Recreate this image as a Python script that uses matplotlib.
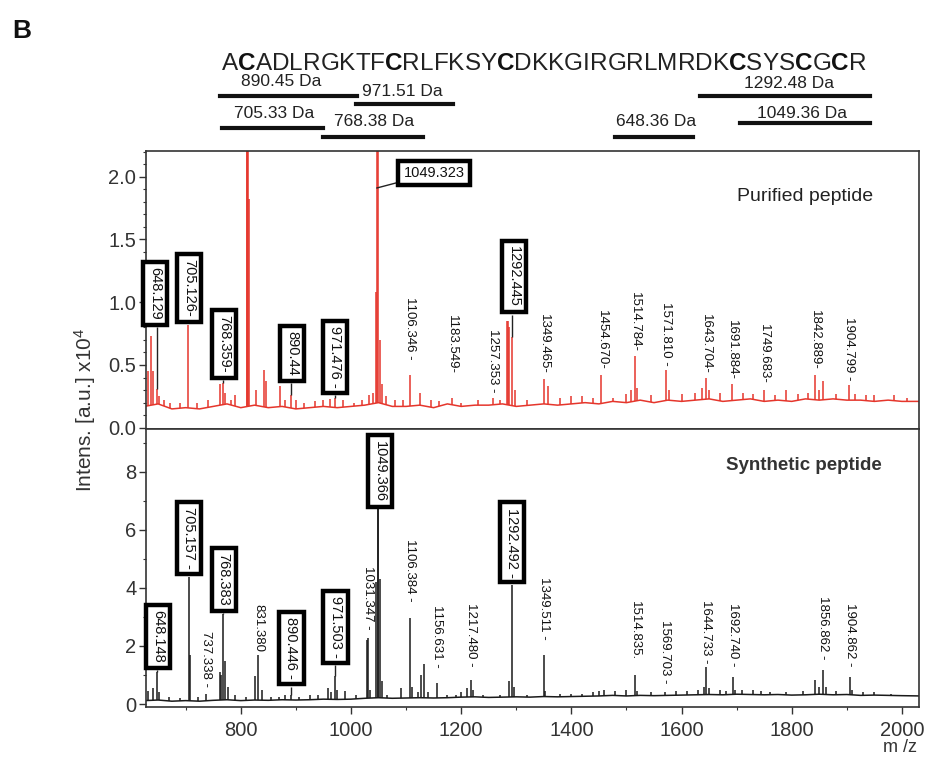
import numpy as np
import matplotlib
matplotlib.use("Agg")
import matplotlib.pyplot as plt
from matplotlib.ticker import MultipleLocator, FixedLocator

plt.rcParams['font.family'] = ['Liberation Sans', 'DejaVu Sans']
plt.rcParams['mathtext.fontset'] = 'custom'
plt.rcParams['mathtext.rm'] = 'Liberation Sans'
plt.rcParams['mathtext.it'] = 'Liberation Sans:italic'

# ---------------- data ----------------
sequence = "ACADLRGKTFCRLFKSYCDKKGIRGRLMRDKCSYSCGCR"
bold_letters = "C"

fragment_labels = ["890.45 Da", "971.51 Da", "1292.48 Da", "705.33 Da", "768.38 Da", "648.36 Da", "1049.36 Da"]

# Purified peptide (red), intensity in units of 10^4
top_base_mz = [625, 650, 675, 700, 725, 750, 775, 800, 825, 850, 875, 900, 925, 950, 975, 1000,
               1025, 1050, 1075, 1100, 1125, 1150, 1175, 1200, 1225, 1250, 1275, 1300, 1325, 1350,
               1375, 1400, 1425, 1450, 1475, 1500, 1525, 1550, 1575, 1600, 1625, 1650, 1675, 1700,
               1725, 1750, 1775, 1800, 1825, 1850, 1875, 1900, 1925, 1950, 1975, 2000, 2035]
top_base_int = [0.17, 0.19, 0.15, 0.16, 0.15, 0.17, 0.19, 0.16, 0.18, 0.16, 0.17, 0.15, 0.16, 0.17,
                0.16, 0.17, 0.18, 0.20, 0.17, 0.17, 0.18, 0.16, 0.19, 0.17, 0.18, 0.18, 0.19, 0.17,
                0.18, 0.19, 0.18, 0.19, 0.20, 0.19, 0.21, 0.20, 0.22, 0.20, 0.22, 0.21, 0.22, 0.23,
                0.21, 0.22, 0.23, 0.21, 0.22, 0.21, 0.23, 0.22, 0.23, 0.22, 0.22, 0.21, 0.22, 0.21, 0.21]
top_peak_mz = [632, 637, 641, 648.1, 652, 660, 672, 690, 705.1, 720, 740, 763, 768.4, 772, 782, 790,
               810.5, 812, 813.5, 815, 827, 843, 846, 871, 880, 890.4, 900, 915, 935, 950, 962, 971.5,
               985, 1005, 1020, 1032, 1040, 1045, 1047.8, 1049.3, 1052, 1056, 1063, 1080, 1095, 1106.3,
               1126, 1145, 1160, 1183.5, 1200, 1230, 1257.4, 1270, 1283, 1285, 1287, 1292.4, 1297, 1320,
               1349.5, 1357, 1380, 1400, 1420, 1440, 1454.7, 1475, 1500, 1508, 1514.8, 1520, 1545,
               1571.8, 1578, 1600, 1625, 1638, 1643.7, 1650, 1670, 1691.9, 1712, 1730, 1749.7, 1770,
               1790, 1812, 1830, 1842.9, 1850, 1857, 1880, 1904.8, 1915, 1935, 1950, 1985, 2010]
top_peak_int = [0.45, 0.73, 0.45, 0.31, 0.25, 0.22, 0.2, 0.2, 0.82, 0.2, 0.22, 0.35, 0.36, 0.28, 0.22,
                0.26, 2.6, 2.6, 2.6, 1.82, 0.3, 0.46, 0.37, 0.33, 0.22, 0.26, 0.22, 0.2, 0.21, 0.22,
                0.23, 0.24, 0.22, 0.2, 0.22, 0.26, 0.28, 1.08, 2.6, 2.6, 0.7, 0.35, 0.25, 0.22, 0.22,
                0.42, 0.28, 0.22, 0.21, 0.24, 0.2, 0.22, 0.24, 0.22, 0.85, 0.85, 0.8, 0.72, 0.3, 0.22,
                0.39, 0.33, 0.24, 0.25, 0.25, 0.24, 0.42, 0.24, 0.27, 0.3, 0.57, 0.32, 0.26, 0.46, 0.3,
                0.27, 0.28, 0.32, 0.4, 0.3, 0.28, 0.35, 0.28, 0.27, 0.3, 0.26, 0.3, 0.27, 0.28, 0.42,
                0.3, 0.37, 0.27, 0.34, 0.27, 0.26, 0.26, 0.26, 0.24]

top_label_text = ["1106.346 -", "1183.549-", "1257.353 -", "1349.465-", "1454.670-", "1514.784-",
                  "1571.810 -", "1643.704-", "1691.884-", "1749.683-", "1842.889-", "1904.799 -"]
top_label_mz = [1106.3, 1183.5, 1257.4, 1349.5, 1454.7, 1514.8, 1571.8, 1643.7, 1691.9, 1749.7, 1842.9, 1904.8]
top_box_text = ["648.129", "705.126-", "768.359-", "890.44", "971.476 -", "1292.445"]
top_box_mz = [648.1, 705.1, 768.4, 890.4, 971.5, 1292.4]
top_box_peak = [0.31, 0.82, 0.36, 0.26, 0.24, 0.72]
top_main_text = "1049.323"
top_main_mz = 1049.3

# Synthetic peptide (black)
bot_base_mz = top_base_mz
bot_base_int = [0.12, 0.14, 0.10, 0.12, 0.10, 0.13, 0.15, 0.12, 0.14, 0.13, 0.15, 0.14, 0.15, 0.17,
                0.16, 0.17, 0.20, 0.22, 0.20, 0.21, 0.22, 0.21, 0.22, 0.24, 0.25, 0.23, 0.24, 0.25,
                0.24, 0.26, 0.25, 0.26, 0.27, 0.28, 0.30, 0.28, 0.30, 0.29, 0.30, 0.31, 0.32, 0.33,
                0.32, 0.34, 0.33, 0.32, 0.33, 0.31, 0.32, 0.34, 0.32, 0.33, 0.30, 0.31, 0.30, 0.29, 0.28]
bot_peak_mz = [632, 640, 648.1, 652, 670, 690, 705.2, 707.5, 722, 737.3, 762, 765, 768.4, 772, 776,
               790, 810, 825, 831.4, 838, 855, 870, 880, 890.4, 905, 925, 940, 958, 963, 971.5, 975,
               990, 1010, 1029, 1031.3, 1035, 1046, 1048.2, 1049.4, 1052, 1056, 1065, 1090, 1106.4, 1110,
               1122, 1128, 1133, 1140, 1156.6, 1175, 1190, 1200, 1210, 1217.5, 1222, 1240, 1270, 1287,
               1292.5, 1296, 1320, 1349.5, 1352, 1380, 1400, 1420, 1440, 1450, 1460, 1480, 1500,
               1514.8, 1520, 1545, 1569.7, 1590, 1610, 1630, 1640, 1644.7, 1650, 1670, 1680, 1692.7,
               1697, 1710, 1730, 1745, 1760, 1790, 1820, 1842, 1850, 1856.9, 1862, 1880, 1904.9, 1910,
               1930, 1950, 1980, 2010]
bot_peak_int = [0.45, 0.55, 1.1, 0.4, 0.25, 0.22, 4.38, 1.7, 0.25, 0.35, 1.1, 1.0, 3.1, 1.5, 0.6,
                0.3, 0.25, 0.96, 1.69, 0.5, 0.25, 0.25, 0.3, 0.3, 0.25, 0.3, 0.3, 0.55, 0.4, 0.95, 0.5,
                0.45, 0.3, 2.2, 2.27, 0.5, 4.2, 6.7, 6.7, 4.3, 0.8, 0.3, 0.55, 2.96, 0.6, 0.4, 1.0, 1.38, 0.4,
                0.72, 0.3, 0.3, 0.4, 0.55, 0.83, 0.5, 0.3, 0.3, 0.8, 4.1, 0.6, 0.3, 1.69, 0.45, 0.35,
                0.35, 0.35, 0.4, 0.45, 0.5, 0.45, 0.5, 1.0, 0.45, 0.4, 0.4, 0.45, 0.45, 0.5, 0.6, 1.28,
                0.55, 0.5, 0.45, 0.93, 0.5, 0.5, 0.5, 0.45, 0.4, 0.4, 0.45, 0.83, 0.6, 1.17, 0.6, 0.45,
                0.93, 0.5, 0.4, 0.4, 0.35, 0.33]

bot_label_text = ["737.338 -", "831.380", "1031.347 -", "1106.384 -", "1156.631 -", "1217.480 -",
                  "1349.511 -", "1514.835.", "1569.703 -", "1644.733 -", "1692.740 -", "1856.862 -",
                  "1904.862 -"]
bot_label_mz = [737.3, 831.4, 1031.3, 1106.4, 1156.6, 1217.5, 1349.5, 1514.8, 1569.7, 1644.7, 1692.7,
                1856.9, 1904.9]
bot_box_text = ["648.148", "705.157 -", "768.383", "890.446 -", "971.503 -", "1049.366", "1292.492 -"]
bot_box_mz = [648.1, 705.2, 768.4, 890.4, 971.5, 1049.4, 1292.5]
bot_box_peak = [1.1, 4.38, 3.1, 0.3, 0.95, 6.7, 4.1]

# ---------------- layout (positions only) ----------------
W, H = 927, 758
def fx(x): return x / W
def fy(y): return 1 - y / H

top_label_y = [0.54, 0.43, 0.28, 0.43, 0.46, 0.60, 0.49, 0.43, 0.38, 0.35, 0.46, 0.38]
top_box_y = [0.80, 0.82, 0.38, 0.355, 0.26, 0.90]
top_box_x = [645, 705.7, 770, 893.6, 970.6, 1295.5]
bot_label_y = [0.6, 1.8, 2.55, 3.52, 1.24, 1.28, 2.2, 1.52, 0.71, 1.41, 1.28, 1.52, 1.28]
bot_box_y = [1.17, 4.38, 3.12, 0.60, 1.34, 6.71, 4.1]
bot_box_x = [650, 706, 769, 892, 972, 1052, 1292]

# fragment bars: (x0, x1, y) in pixels, label centre (x, y)
frag_bars = [(220, 357, 95.5), (356, 453, 104), (700, 870, 96), (222, 323, 128),
             (323, 423, 136.5), (615, 693, 137), (740, 870, 123)]
frag_text_pos = [(281, 82), (402, 92), (789, 83), (274, 114), (374, 122), (656, 122), (802, 113)]

red = '#e5362c'
dark = '#1a1a1a'

fig = plt.figure(figsize=(W / 100, H / 100), dpi=100)
ax_l, ax_r = 146, 919
ax1 = fig.add_axes([fx(ax_l), fy(429), (ax_r - ax_l) / W, (429 - 151) / H])
ax2 = fig.add_axes([fx(ax_l), fy(707), (ax_r - ax_l) / W, (707 - 429) / H])

xlim = (628, 2031)


def draw_spectrum(ax, base_mz, base_int, pk_mz, pk_int, color):
    ax.plot(base_mz, base_int, color=color, lw=1.1, zorder=2)
    b = np.interp(pk_mz, base_mz, base_int)
    ax.vlines(pk_mz, b, pk_int, color=color, lw=1.1, zorder=2)


draw_spectrum(ax1, top_base_mz, top_base_int, top_peak_mz, top_peak_int, red)
draw_spectrum(ax2, bot_base_mz, bot_base_int, bot_peak_mz, bot_peak_int, dark)

label_fs = 9.5
box_fs = 10.5
box_kw = dict(boxstyle='square,pad=0.35', fc='white', ec='black', lw=3.2)
box_off = 0.35 * box_fs + 1.8


def plain_labels(ax, texts, mzs, ys):
    for t, m, y in zip(texts, mzs, ys):
        ax.annotate(t, xy=(m, y), xytext=(0, 0), textcoords='offset points', rotation=270,
                    ha='center', va='bottom', fontsize=label_fs, color='#111111', zorder=5)


def box_labels(ax, texts, mzs, xs, ys, peaks):
    for t, m, x, y, p in zip(texts, mzs, xs, ys, peaks):
        if y > p:
            ax.vlines([m], p, y, color='#222222', lw=1.0, zorder=3)
        ax.annotate(t, xy=(x, y), xytext=(0, box_off), textcoords='offset points', rotation=270,
                    ha='center', va='bottom', fontsize=box_fs, color='#111111', bbox=box_kw,
                    zorder=6, annotation_clip=False)


plain_labels(ax1, top_label_text, top_label_mz, top_label_y)
box_labels(ax1, top_box_text, top_box_mz, top_box_x, top_box_y, top_box_peak)
ax1.annotate(top_main_text, xy=(top_main_mz - 2.5, 1.91), xytext=(1150.6, 2.03), textcoords='data',
             ha='center', va='center', fontsize=box_fs, color='#111111', bbox=box_kw, zorder=6,
             arrowprops=dict(arrowstyle='-', color='#222222', lw=1.0, shrinkA=0, shrinkB=0))

plain_labels(ax2, bot_label_text, bot_label_mz, bot_label_y)
box_labels(ax2, bot_box_text, bot_box_mz, bot_box_x, bot_box_y, bot_box_peak)

ax1.text(0.9405, 0.835, "Purified peptide", transform=ax1.transAxes, ha='right', va='center',
         fontsize=14, color='#222222')
ax2.text(0.952, 0.87, "Synthetic peptide", transform=ax2.transAxes, ha='right', va='center',
         fontsize=13.5, fontweight='bold', color='#333333')

for ax in (ax1, ax2):
    ax.set_xlim(*xlim)
    for s in ax.spines.values():
        s.set_color('#333333')
        s.set_linewidth(1.2)
    ax.tick_params(axis='both', which='major', direction='out', length=5, width=1.0,
                   labelsize=14.5, colors='#333333', pad=2)
    ax.tick_params(axis='both', which='minor', direction='out', length=2.5, width=0.8, colors='#333333')

ax1.set_ylim(-0.01, 2.205)
ax1.yaxis.set_major_locator(FixedLocator([0.0, 0.5, 1.0, 1.5, 2.0]))
ax1.set_yticklabels(["0.0", "0.5", "1.0", "1.5", "2.0"])
ax1.yaxis.set_minor_locator(MultipleLocator(0.1))
ax1.tick_params(axis='x', which='both', bottom=False, labelbottom=False)

ax2.set_ylim(-0.1, 9.47)
ax2.yaxis.set_major_locator(FixedLocator([0, 2, 4, 6, 8]))
ax2.yaxis.set_minor_locator(MultipleLocator(1))
ax2.xaxis.set_major_locator(MultipleLocator(200))
ax2.xaxis.set_minor_locator(MultipleLocator(100))
ax2.tick_params(axis='x', which='major', pad=5)

fig.text(fx(85), fy(410), "Intens. [a.u.] x10$^{4}$", rotation=90, ha='center', va='center',
         fontsize=15, color='#333333')
fig.text(fx(900), fy(748), "m /z", ha='center', va='center', fontsize=13, color='#333333')
fig.text(fx(12), fy(31), "B", ha='left', va='center', fontsize=19, fontweight='bold', color='#111111')

# peptide sequence, bold cysteines
prev = fig.text(fx(222), fy(70), sequence[0], fontsize=17.5, va='baseline', ha='left',
                color='#222222', fontweight='bold' if sequence[0] in bold_letters else 'normal')
for ch in sequence[1:]:
    prev = ax1.annotate(ch, xy=(1, 0), xycoords=prev, va='bottom', ha='left', fontsize=17.5,
                        color='#111111' if ch in bold_letters else '#222222',
                        fontweight='bold' if ch in bold_letters else 'normal', annotation_clip=False)

for (x0, x1, y), (tx, ty), lab in zip(frag_bars, frag_text_pos, fragment_labels):
    fig.add_artist(plt.Line2D([fx(x0), fx(x1)], [fy(y), fy(y)], color='#111111', lw=3.0,
                              transform=fig.transFigure))
    fig.text(fx(tx), fy(ty), lab, ha='center', va='center', fontsize=12.5, color='#222222')

fig.savefig("out.png", dpi=100)
